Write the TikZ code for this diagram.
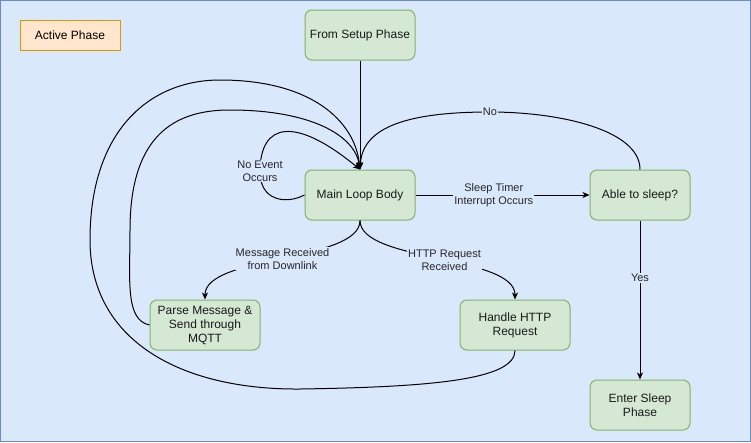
\documentclass[tikz,border=0pt]{standalone}
\usepackage{fontspec}
\setmainfont{Liberation Sans}
\usetikzlibrary{arrows.meta}
\definecolor{bgblue}{HTML}{DAE8FC}
\definecolor{bgline}{HTML}{6C8EBF}
\definecolor{gfill}{HTML}{D5E8D4}
\definecolor{gline}{HTML}{82B366}
\definecolor{ofill}{HTML}{FFE6CC}
\definecolor{oline}{HTML}{D79B00}
\tikzset{
  box/.style={draw=gline, fill=gfill, line width=1pt, rounded corners=7pt,
    minimum width=110pt, minimum height=50pt, inner sep=0pt, align=center,
    font=\fontsize{12}{14}\selectfont, text=black!90},
  smallbox/.style={box, minimum width=100pt},
  conn/.style={line width=1pt, -{Stealth[length=7pt,width=6pt,inset=2pt]}},
  lbl/.style={fill=bgblue, inner sep=1pt, align=center, font=\fontsize{11}{13}\selectfont, text=black!85},
}
\begin{document}
\begin{tikzpicture}[x=1pt,y=-1pt]
\useasboundingbox (0,0) rectangle (751,442);
\fill[bgblue] (0,0) rectangle (751,442);
\draw[bgline, line width=1pt] (0.5,0.5) rectangle (750.5,441.5);

\node[draw=oline, fill=ofill, line width=1pt, minimum width=100pt, minimum height=30pt,
  inner sep=0pt, font=\fontsize{12}{14}\selectfont] (phase) at (70,35) {Active Phase};

\node[box] (setup) at (360,35) {From Setup Phase};
\node[box] (main) at (360,195) {Main Loop Body};
\node[smallbox] (able) at (640,195) {Able to sleep?};
\node[box] (parse) at (205,325) {Parse Message \&\\Send through\\MQTT};
\node[box] (http) at (515,325) {Handle HTTP\\Request};
\node[smallbox] (sleep) at (640,405) {Enter Sleep\\Phase};

\coordinate (mtop) at (main.north);

% outer loop from HTTP
\draw[conn] (http.south) .. controls (515,380) and (430,387) .. (300,389)
  .. controls (180,390) and (90,340) .. (90,240)
  .. controls (90,130) and (150,80) .. (220,80)
  .. controls (310,80) and (355,120) .. (mtop);
% inner loop from Parse
\draw[conn] (parse.west) .. controls (125,320) and (130,280) .. (130,230)
  .. controls (130,130) and (180,110) .. (230,110)
  .. controls (310,110) and (355,135) .. (mtop);
% self loop
\draw[conn] (main.west) .. controls (285,205) and (260,200) .. (260,172)
  .. controls (260,122) and (295,116) .. (mtop);
\node[lbl] (noev) at (260,171) {No Event\\Occurs};
% No
\draw[conn] (able.north) .. controls (640,130) and (560,112) .. (490,112)
  .. controls (400,112) and (362,130) .. (mtop);
\node[lbl] (nolbl) at (490,112) {No};
% setup to main
\draw[conn] (setup.south) -- (mtop);
% main to able
\draw[conn] (main.east) -- node[lbl, pos=0.45] (timer) {Sleep Timer\\Interrupt Occurs} (able.west);
% able to sleep
\draw[conn] (able.south) -- node[lbl, pos=0.36] (yes) {Yes} (sleep.north);
% main to parse
\draw[conn] (main.south) .. controls (360,262) and (205,255) .. node[lbl, pos=0.5] (msg) {Message Received\\from Downlink} (parse.north);
% main to http
\draw[conn] (main.south) .. controls (360,262) and (515,255) .. node[lbl, pos=0.53] (httpl) {HTTP Request\\Received} (http.north);
\end{tikzpicture}
\end{document}
